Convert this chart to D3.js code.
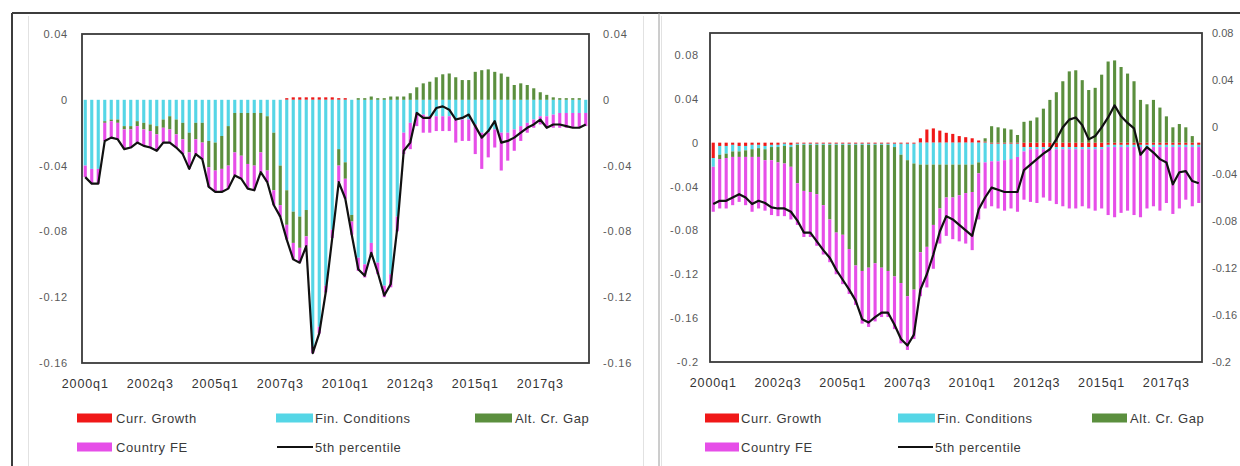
<!DOCTYPE html>
<html><head><meta charset="utf-8">
<script src="https://cdn.jsdelivr.net/npm/d3@7"></script>
<style>
html,body{margin:0;padding:0;background:#fff;}
svg{display:block;}
text{font-family:"Liberation Sans",Arial,sans-serif;}
</style></head>
<body>
<svg id="c" width="1240" height="466"></svg>
<script>
// ---------------- DATA ----------------
const seriesNames = ["Curr. Growth","Fin. Conditions","Alt. Cr. Gap","Country FE"];
const lineName = "5th percentile";
const xTickLabels = ["2000q1","2002q3","2005q1","2007q3","2010q1","2012q3","2015q1","2017q3"];
const leftTicksA = [-0.16,-0.12,-0.08,-0.04,0,0.04];
const leftTicksB = [-0.2,-0.16,-0.12,-0.08,-0.04,0,0.04,0.08];
const rightTicksB = [-0.2,-0.16,-0.12,-0.08,-0.04,0,0.04,0.08];

// Panel A (left): 2000q1 - 2019q2
const currA = [0,0,0,0,0,0,0,0,0,0, 0,0,0,0,0,0,0,0,0,0, 0,0,0,0,0,0,0,0,0,0,
  0,0.001,0.0015,0.0015,0.0015,0.0015,0.0015,0.0015,0.0015,0.001, 0.001,0,0,0,0,0,0,0,0,0,
  0,0,0,0,0,0,0,0,0,0, 0,0,0,0,0,0,0,0,0,0, 0,0,0,0,0,0,0,0];
const finA = [-0.040,-0.042,-0.042,-0.013,-0.012,-0.012,-0.016,-0.016,-0.013,-0.014,
  -0.015,-0.016,-0.012,-0.010,-0.012,-0.014,-0.020,-0.014,-0.014,-0.025,
  -0.026,-0.022,-0.016,-0.008,-0.008,-0.008,-0.008,-0.008,-0.010,-0.020,
  -0.040,-0.055,-0.068,-0.071,-0.067,-0.150,-0.138,-0.113,-0.079,-0.030,
  -0.038,-0.070,-0.096,-0.100,-0.087,-0.099,-0.113,-0.106,-0.071,-0.020,
  -0.014,-0.008,-0.009,-0.010,-0.010,-0.010,-0.010,-0.012,-0.012,-0.012,
  -0.015,-0.020,-0.020,-0.018,-0.020,-0.020,-0.018,-0.016,-0.014,-0.012,
  -0.010,-0.010,-0.009,-0.008,-0.008,-0.008,-0.008,-0.008];
const gapA = [0,0,0,-0.001,-0.001,-0.002,-0.002,-0.002,-0.003,-0.004,
  -0.004,-0.005,-0.005,-0.008,-0.009,-0.010,-0.012,-0.010,-0.012,-0.016,
  -0.017,-0.020,-0.024,-0.024,-0.026,-0.031,-0.032,-0.024,-0.033,-0.035,
  -0.024,-0.021,-0.019,-0.019,-0.016,0,0,0,0,-0.010,
  -0.010,-0.004,0.001,0.001,0.002,0.001,0.001,0.002,0.002,0.002,
  0.004,0.0076,0.010,0.011,0.0137,0.0155,0.016,0.0137,0.012,0.012,
  0.017,0.018,0.0185,0.017,0.016,0.014,0.009,0.010,0.009,0.007,
  0.0046,0.003,0.0015,0.001,0.001,0.001,0.001,0];
const feA = [-0.007,-0.009,-0.009,-0.011,-0.010,-0.010,-0.012,-0.011,-0.010,-0.010,
  -0.010,-0.010,-0.009,-0.008,-0.008,-0.009,-0.010,-0.009,-0.010,-0.012,
  -0.013,-0.014,-0.014,-0.014,-0.014,-0.015,-0.015,-0.012,-0.007,-0.009,
  -0.007,-0.009,-0.010,-0.009,-0.006,-0.004,-0.004,-0.004,-0.005,-0.010,
  -0.012,-0.008,-0.008,-0.008,-0.008,-0.007,-0.007,-0.008,-0.009,-0.013,
  -0.016,-0.008,-0.011,-0.010,-0.009,-0.009,-0.009,-0.014,-0.013,-0.013,
  -0.018,-0.022,-0.015,-0.011,-0.023,-0.017,-0.013,-0.009,-0.006,-0.005,
  -0.005,-0.007,-0.008,-0.009,-0.009,-0.009,-0.009,-0.008];
const pctA = [-0.047,-0.051,-0.051,-0.025,-0.023,-0.024,-0.030,-0.029,-0.026,-0.028,
  -0.029,-0.031,-0.026,-0.026,-0.029,-0.033,-0.042,-0.033,-0.036,-0.053,
  -0.056,-0.056,-0.054,-0.046,-0.048,-0.054,-0.055,-0.044,-0.050,-0.064,
  -0.071,-0.085,-0.097,-0.099,-0.089,-0.154,-0.142,-0.117,-0.084,-0.050,
  -0.060,-0.082,-0.103,-0.107,-0.093,-0.105,-0.119,-0.112,-0.078,-0.031,
  -0.026,-0.008,-0.011,-0.011,-0.005,-0.004,-0.006,-0.012,-0.011,-0.009,
  -0.016,-0.023,-0.019,-0.013,-0.026,-0.025,-0.023,-0.020,-0.017,-0.015,
  -0.012,-0.017,-0.015,-0.015,-0.016,-0.017,-0.017,-0.015];

// Panel B (right): 2000q1 - 2018q4
const currB = [-0.014,-0.003,-0.003,-0.002,-0.003,-0.003,-0.002,-0.002,-0.003,-0.002,
  -0.002,-0.001,-0.002,-0.001,-0.001,-0.001,-0.001,-0.001,-0.001,-0.001,
  -0.001,-0.001,-0.001,-0.001,-0.001,-0.001,-0.001,-0.001,-0.001,-0.001,
  -0.001,-0.001,0.004,0.012,0.013,0.011,0.009,0.008,0.006,0.005,
  0.004,0.002,0.001,-0.001,-0.001,-0.001,-0.001,-0.001,-0.004,-0.004,
  -0.004,-0.004,-0.004,-0.004,-0.004,-0.004,-0.004,-0.004,-0.004,-0.004,
  -0.004,-0.002,-0.002,-0.002,-0.002,-0.002,-0.002,-0.002,-0.002,-0.002,
  -0.002,-0.002,-0.002,-0.002,-0.002,-0.002];
const finB = [-0.008,-0.008,-0.007,-0.006,-0.005,-0.004,-0.004,-0.003,-0.003,-0.002,
  -0.002,-0.002,-0.002,-0.001,-0.001,-0.001,-0.001,-0.001,-0.001,-0.001,
  -0.001,-0.001,-0.001,-0.001,-0.001,-0.001,-0.001,-0.001,-0.003,-0.010,
  -0.015,-0.018,-0.020,-0.020,-0.020,-0.020,-0.020,-0.020,-0.020,-0.020,
  -0.020,-0.018,-0.018,-0.016,-0.016,-0.015,-0.014,-0.012,-0.004,-0.002,
  -0.002,-0.002,-0.002,-0.002,-0.002,-0.002,-0.002,-0.002,-0.002,-0.002,
  -0.002,-0.002,-0.002,-0.002,-0.002,-0.002,-0.002,-0.002,-0.002,-0.002,
  -0.002,-0.002,-0.002,-0.002,-0.002,-0.002];
const gapB = [0,-0.004,-0.004,-0.005,-0.005,-0.006,-0.007,-0.008,-0.010,-0.012,
  -0.014,-0.016,-0.018,-0.035,-0.042,-0.043,-0.045,-0.055,-0.068,-0.080,
  -0.082,-0.095,-0.110,-0.115,-0.112,-0.108,-0.112,-0.115,-0.118,-0.117,
  -0.124,-0.115,-0.080,-0.075,-0.055,-0.040,-0.030,-0.030,-0.028,-0.026,
  -0.025,-0.010,0.003,0.015,0.014,0.013,0.012,0.007,0.019,0.020,
  0.023,0.031,0.039,0.046,0.056,0.065,0.066,0.057,0.048,0.050,
  0.062,0.074,0.075,0.069,0.063,0.056,0.039,0.035,0.039,0.032,
  0.024,0.014,0.017,0.014,0.006,0];
const feB = [-0.041,-0.045,-0.046,-0.044,-0.041,-0.044,-0.050,-0.047,-0.046,-0.050,
  -0.049,-0.048,-0.048,-0.038,-0.042,-0.041,-0.047,-0.045,-0.039,-0.038,
  -0.045,-0.041,-0.036,-0.048,-0.054,-0.053,-0.045,-0.042,-0.048,-0.055,
  -0.049,-0.045,-0.040,-0.037,-0.040,-0.032,-0.035,-0.038,-0.042,-0.046,
  -0.053,-0.042,-0.042,-0.041,-0.043,-0.046,-0.045,-0.050,-0.044,-0.048,
  -0.049,-0.044,-0.047,-0.050,-0.052,-0.054,-0.054,-0.052,-0.054,-0.056,
  -0.054,-0.062,-0.064,-0.060,-0.058,-0.062,-0.064,-0.056,-0.054,-0.058,
  -0.051,-0.061,-0.056,-0.048,-0.054,-0.051];
const pctB = [-0.056,-0.053,-0.053,-0.050,-0.047,-0.050,-0.056,-0.053,-0.055,-0.059,
  -0.060,-0.060,-0.063,-0.071,-0.082,-0.082,-0.090,-0.098,-0.105,-0.116,
  -0.125,-0.134,-0.144,-0.161,-0.164,-0.159,-0.155,-0.155,-0.166,-0.179,
  -0.185,-0.175,-0.134,-0.120,-0.102,-0.081,-0.067,-0.070,-0.075,-0.080,
  -0.085,-0.061,-0.050,-0.041,-0.043,-0.045,-0.045,-0.045,-0.025,-0.020,
  -0.015,-0.010,-0.006,0.003,0.014,0.021,0.023,0.016,0.003,0.006,
  0.014,0.023,0.034,0.024,0.018,0.013,-0.011,-0.004,-0.009,-0.015,
  -0.018,-0.038,-0.027,-0.026,-0.035,-0.037];

// ---------------- STYLE / LAYOUT ----------------
const colors = ["#f01818","#55d6e6","#5b8f3e","#e64ee8"];
const tickColor = "#595959", legendColor = "#3a3a3a";

function quarterLabels(n){
  const out=[]; for(let i=0;i<n;i++){ out.push((2000+Math.floor(i/4))+"q"+(i%4+1)); } return out;
}
function fmt(d){ return d===0 ? "0" : String(+d.toFixed(2)); }

const panels = [
  {series:[currA,finA,gapA,feA], line:pctA, x0:82, x1:589, y0:34, y1:363,
   dom:[-0.16,0.04], dom2:[-0.16,0.04], ticks:leftTicksA, ticks2:leftTicksA, pad:14, pad2:14, ls2:0.8,
   leg:{r1:418, r2:447, sw:[[77,112],[276,313],[475,512]], tx:[116,315,515], sw2:[[77,112],[277,313]], tx2:[116,315]}},
  {series:[currB,finB,gapB,feB], line:pctB, x0:710, x1:1202, y0:33, y1:362,
   dom:[-0.2,0.1], dom2:[-0.2,0.08], ticks:leftTicksB, ticks2:rightTicksB, pad:11, pad2:10, ls2:0,
   leg:{r1:418, r2:447, sw:[[705,739],[898,935],[1092,1127]], tx:[741,937,1130], sw2:[[705,739],[898,933]], tx2:[741,935]}}
];

const svg = d3.select("#c");

// frames
svg.append("line").attr("x1",12).attr("y1",13).attr("x2",1240).attr("y2",13).attr("stroke","#3c3c3c").attr("stroke-width",2);
svg.append("line").attr("x1",12).attr("y1",13).attr("x2",12).attr("y2",466).attr("stroke","#3c3c3c").attr("stroke-width",2);
svg.append("line").attr("x1",659).attr("y1",13).attr("x2",659).attr("y2",466).attr("stroke","#9a9a9a").attr("stroke-width",1);
[28.5,643.5,661.5].forEach(x=>svg.append("line").attr("x1",x).attr("y1",16).attr("x2",x).attr("y2",466).attr("stroke","#e2e2e2").attr("stroke-width",1));

panels.forEach(p=>{
  const n = p.line.length;
  const cats = quarterLabels(n);
  const x = d3.scaleBand().domain(cats).range([p.x0,p.x1]).paddingInner(0.52).paddingOuter(0.26);
  const y = d3.scaleLinear().domain(p.dom).range([p.y1,p.y0]);
  const y2 = d3.scaleLinear().domain(p.dom2).range([p.y1,p.y0]);
  const g = svg.append("g");

  // stacked bars (positive & negative stacks separately)
  const rects = [];
  for(let i=0;i<n;i++){
    let pos=0, neg=0;
    p.series.forEach((s,k)=>{
      const v = s[i]; if(!v) return;
      let a,b; if(v>0){a=pos;b=pos+v;pos=b;} else {a=neg;b=neg+v;neg=b;}
      rects.push({cat:cats[i], a, b, k});
    });
  }
  g.selectAll("rect.bar").data(rects).join("rect")
    .attr("x",d=>x(d.cat)).attr("width",x.bandwidth())
    .attr("y",d=>Math.min(y(d.a),y(d.b))).attr("height",d=>Math.abs(y(d.a)-y(d.b)))
    .attr("fill",d=>colors[d.k]);

  // line
  const ln = d3.line().x((d,i)=>x(cats[i])+x.bandwidth()/2).y(d=>y(d));
  g.append("path").attr("d",ln(p.line)).attr("fill","none").attr("stroke","#111")
    .attr("stroke-width",2.2).attr("stroke-linejoin","round");

  // plot border
  g.append("rect").attr("x",p.x0).attr("y",p.y0).attr("width",p.x1-p.x0).attr("height",p.y1-p.y0)
    .attr("fill","none").attr("stroke","#3a3a3a").attr("stroke-width",1.8);

  // axes
  const ax = g.append("g").attr("transform",`translate(${p.x0},0)`)
    .call(d3.axisLeft(y).tickValues(p.ticks).tickSize(0).tickPadding(p.pad).tickFormat(fmt));
  const ax2 = g.append("g").attr("transform",`translate(${p.x1},0)`)
    .call(d3.axisRight(y2).tickValues(p.ticks2).tickSize(0).tickPadding(p.pad2).tickFormat(fmt));
  const xb = g.append("g").attr("transform",`translate(0,${p.y1})`)
    .call(d3.axisBottom(x).tickValues(xTickLabels).tickSize(0).tickPadding(16));
  [ax,ax2,xb].forEach(a=>{ a.select(".domain").remove();
    a.selectAll("text").attr("fill",tickColor).style("font-family","'Liberation Sans',Arial,sans-serif"); });
  ax.selectAll("text").style("font-size","11px").style("letter-spacing","0.8px");
  ax2.selectAll("text").style("font-size","11px").style("letter-spacing",p.ls2+"px");
  xb.selectAll("text").style("font-size","12.5px").style("letter-spacing","0.9px").attr("fill","#333");

  // legend
  const L = p.leg;
  const legText = (sel)=>sel.attr("fill",legendColor).style("font-size","13px").style("letter-spacing","0.6px");
  [0,1,2].forEach(k=>{
    g.append("rect").attr("x",L.sw[k][0]).attr("y",L.r1-4.5).attr("width",L.sw[k][1]-L.sw[k][0]).attr("height",9).attr("fill",colors[k]);
    legText(g.append("text").attr("x",L.tx[k]).attr("y",L.r1).attr("dy","0.35em").text(seriesNames[k]));
  });
  g.append("rect").attr("x",L.sw2[0][0]).attr("y",L.r2-4.5).attr("width",L.sw2[0][1]-L.sw2[0][0]).attr("height",9).attr("fill",colors[3]);
  legText(g.append("text").attr("x",L.tx2[0]).attr("y",L.r2).attr("dy","0.35em").text(seriesNames[3]));
  g.append("line").attr("x1",L.sw2[1][0]).attr("x2",L.sw2[1][1]).attr("y1",L.r2).attr("y2",L.r2).attr("stroke","#111").attr("stroke-width",2.2);
  legText(g.append("text").attr("x",L.tx2[1]).attr("y",L.r2).attr("dy","0.35em").text(lineName));
});
</script>
</body></html>
